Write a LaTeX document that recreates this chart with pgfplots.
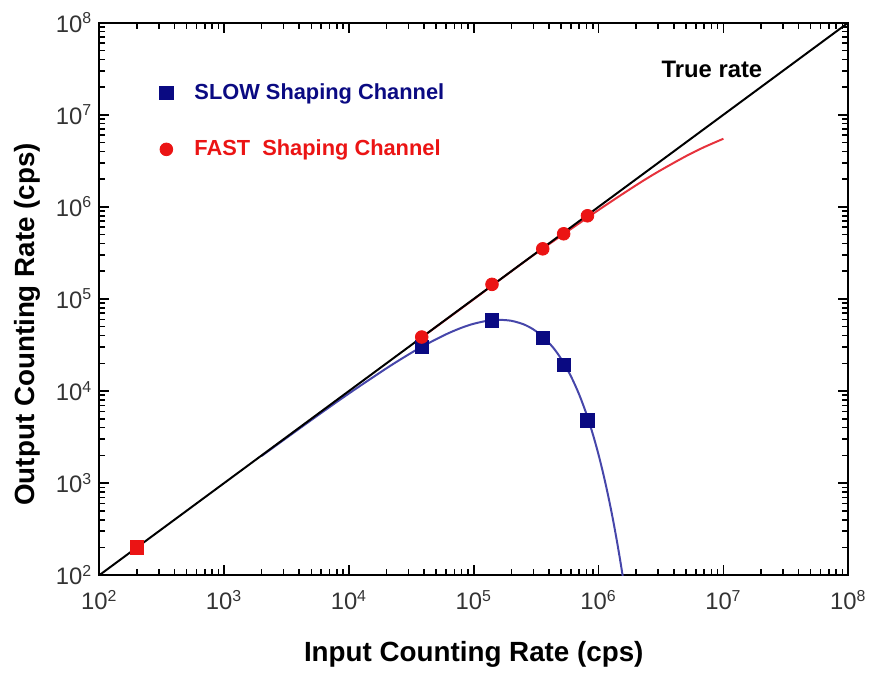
\documentclass[border=0pt]{standalone}
\usepackage{fontspec}
\setmainfont{Liberation Sans}
\usepackage{pgfplots}
\pgfplotsset{compat=1.18}

\definecolor{slowmark}{RGB}{10,10,130}
\definecolor{slowline}{RGB}{70,70,170}
\definecolor{fastmark}{RGB}{235,20,20}
\definecolor{fastline}{RGB}{230,50,60}

\begin{document}
\begin{tikzpicture}
\begin{axis}[
    scale only axis,
    width=377.5pt, height=278.5pt,
    xmode=log, ymode=log,
    log basis x=10, log basis y=10,
    xmin=1e2, xmax=1e8, ymin=1e2, ymax=1e8,
    axis line style={line width=1pt},
    tick style={line width=0.8pt, black},
    tick align=inside,
    major tick length=5pt,
    minor tick length=3pt,
    /pgf/number format/assume math mode=true,
    xticklabel={10\textsuperscript{\pgfmathprintnumber[fixed,precision=0]{\tick}}},
    yticklabel={10\textsuperscript{\pgfmathprintnumber[fixed,precision=0]{\tick}}},
    tick label style={font=\fontsize{12}{14}\selectfont, text=black!80},
    xticklabel style={yshift=-4pt},
    label style={font=\fontsize{14}{16}\selectfont\bfseries},
    xlabel={Input Counting Rate (cps)},
    ylabel={Output Counting Rate (cps)},
    xlabel style={at={(ticklabel cs:0.5)}, anchor=north, yshift=-9pt},
    ylabel style={at={(ticklabel cs:0.454)}, anchor=south, yshift=1pt},
    clip mode=individual,
    legend image code/.code={\path (0cm,0cm) (0.72cm,0cm);
        \draw[#1] plot coordinates {(0.3cm,0cm)};},
    legend style={at={(0.058,0.905)}, anchor=north west, draw=none, fill=none,
        font=\fontsize{11}{13}\selectfont\bfseries, row sep=15pt,
        cells={anchor=west}},
]
% slow channel fit curve
\addplot[slowline, line width=1pt, smooth, forget plot] coordinates {
(2e3,1975) (5e3,4846) (1e4,9399) (2e4,17660) (3e4,24900) (4e4,31200)
(6e4,41300) (8e4,48700) (1e5,53800) (1.3e5,58100) (1.6e5,59300)
(2e5,57900) (2.5e5,53100) (3e5,46700) (3.6e5,38600) (4.3e5,29900)
(5e5,22500) (6e5,14500) (7e5,9130) (8e5,5610) (9e5,3390) (1e6,2030)
(1.1e6,1200) (1.2e6,704) (1.3e6,411) (1.4e6,238) (1.5e6,137) (1.6e6,79)
};
% fast channel fit curve
\addplot[fastline, line width=1pt, smooth, forget plot] coordinates {
(4e4,39900) (1e5,99200) (3e5,298000) (1e6,924000) (2e6,1718000)
(3e6,2408000) (5e6,3546000) (7e6,4447000) (1e7,5490000)
};
% true rate
\addplot[black, line width=1pt, forget plot] coordinates {(1e2,1e2) (1e8,1e8)};
% measured points
\addplot[only marks, mark=square*, mark size=3.4pt, draw=slowmark, fill=slowmark]
coordinates {(3.83e4,3.0e4) (1.4e5,5.87e4) (3.57e5,3.76e4) (5.25e5,1.92e4) (8.15e5,4.8e3)};
\addlegendentry{\textcolor{slowmark}{SLOW Shaping Channel}}
\addplot[only marks, mark=*, mark size=3.2pt, draw=fastmark, fill=fastmark]
coordinates {(3.83e4,3.86e4) (1.4e5,1.44e5) (3.57e5,3.5e5) (5.25e5,5.1e5) (8.15e5,8.0e5)};
\addlegendentry{\textcolor{fastmark}{FAST\ \ Shaping Channel}}
\addplot[only marks, mark=square*, mark size=3.4pt, draw=fastmark, fill=fastmark, forget plot]
coordinates {(2e2,2e2)};
\node[font=\fontsize{12}{14}\selectfont\bfseries] at (rel axis cs:0.818,0.916) {True rate};
\path (rel axis cs:-0.1325,-0.158) (rel axis cs:1.024,1.041);
\end{axis}
\end{tikzpicture}
\end{document}
